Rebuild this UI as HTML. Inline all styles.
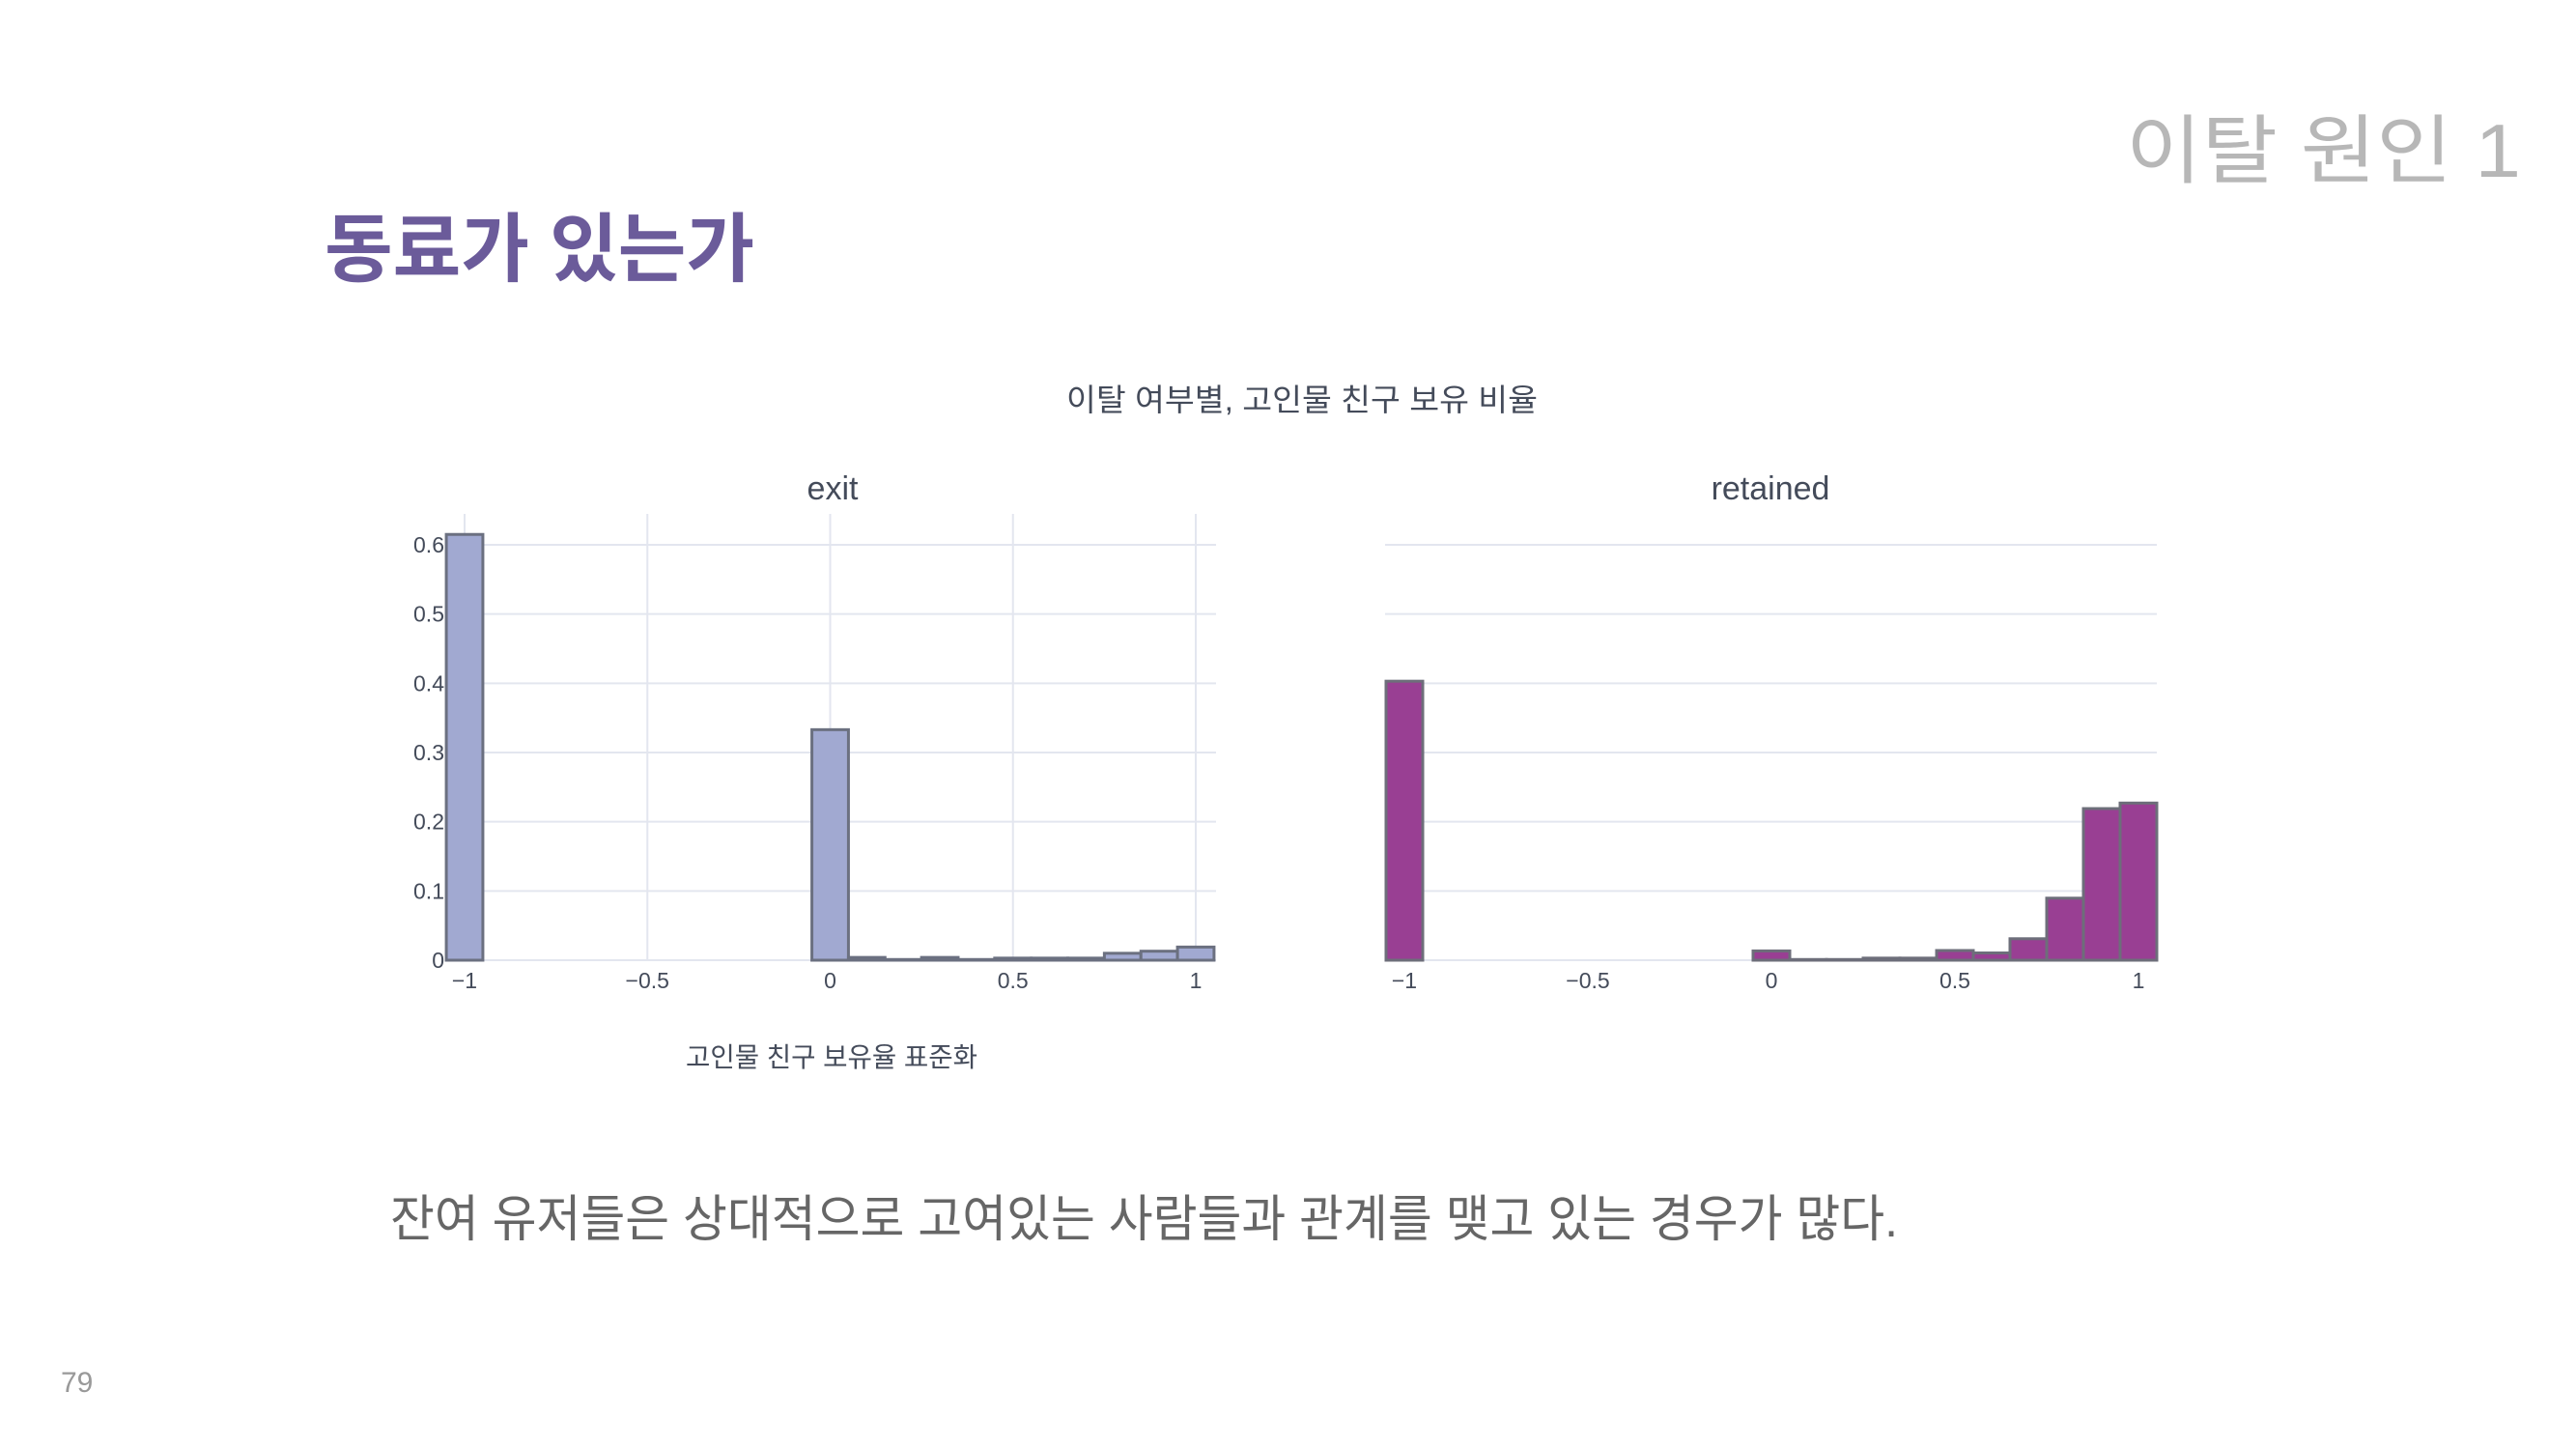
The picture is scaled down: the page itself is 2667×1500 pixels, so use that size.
<!DOCTYPE html>
<html><head><meta charset="utf-8"><style>
html,body{margin:0;padding:0;background:#fff;}
svg{display:block;}
text{font-family:"Liberation Sans","Noto Sans CJK KR",sans-serif;}
</style></head><body>
<svg id="root" width="2667" height="1500" viewBox="0 0 2667 1500">
<text x="2201" y="183" font-size="78" fill="#b7b7b7" textLength="409" lengthAdjust="spacingAndGlyphs">이탈 원인 1</text>
<text x="336" y="285" font-size="78" fill="#6b5b9a" font-weight="bold" textLength="445" lengthAdjust="spacingAndGlyphs">동료가 있는가</text>
<text x="1104" y="425" font-size="32" fill="#444b5a" textLength="488" lengthAdjust="spacingAndGlyphs">이탈 여부별, 고인물 친구 보유 비율</text>
<text x="862" y="517" font-size="34" fill="#444b5a" text-anchor="middle">exit</text>
<text x="1833" y="517" font-size="34" fill="#444b5a" text-anchor="middle">retained</text>
<text x="710" y="1104" font-size="28" fill="#444b5a" textLength="302" lengthAdjust="spacingAndGlyphs">고인물 친구 보유율 표준화</text>
<text x="404" y="1280" font-size="52" fill="#666" textLength="1561" lengthAdjust="spacingAndGlyphs">잔여 유저들은 상대적으로 고여있는 사람들과 관계를 맺고 있는 경우가 많다.</text>
<text x="63" y="1441" font-size="30" fill="#999">79</text>
<g id="chart"></g>
</svg>
<script>
const binCenters = [-1,-0.9,-0.8,-0.7,-0.6,-0.5,-0.4,-0.3,-0.2,-0.1,0,0.1,0.2,0.3,0.4,0.5,0.6,0.7,0.8,0.9,1];
const exitValues = [0.615,0,0,0,0,0,0,0,0,0,0.333,0.004,0.001,0.004,0.001,0.003,0.003,0.003,0.01,0.013,0.019];
const retainedValues = [0.403,0,0,0,0,0,0,0,0,0,0.0134,0.001,0.001,0.003,0.003,0.014,0.0105,0.031,0.0896,0.219,0.227];
const xTicks = [-1,-0.5,0,0.5,1];
const xTickLabels = ["\u22121","\u22120.5","0","0.5","1"];
const yTicks = [0,0.1,0.2,0.3,0.4,0.5,0.6];
const yTickLabels = ["0","0.1","0.2","0.3","0.4","0.5","0.6"];
const binWidth = 0.1;

const NS = "http://www.w3.org/2000/svg";
const g = document.getElementById('chart');
function el(tag, attrs){const e=document.createElementNS(NS,tag);for(const k in attrs)e.setAttribute(k,attrs[k]);g.appendChild(e);return e;}
const Y0 = 994, Y6 = 564;
const yScale = v => Y0 - v*(Y0-Y6)/0.6;
function panel(x0, xUnit, left, right, values, fill, stroke, name, vgrid, showY){
  const xs = v => x0 + (v+1)/2*xUnit;
  yTicks.forEach((t,i)=>{
    const l=el('line',{x1:left,x2:right,y1:yScale(t),y2:yScale(t),stroke:'#e3e6ef','stroke-width':2});
    
    
    if(showY){
      const tx=el('text',{x:460,y:yScale(t)+8,'font-size':23,fill:'#444b5a','text-anchor':'end'});
      tx.textContent=yTickLabels[i];
      
      
    }
  });
  xTicks.forEach((t,i)=>{
    if(vgrid){
      const l=el('line',{x1:xs(t),x2:xs(t),y1:532,y2:Y0,stroke:'#e3e6ef','stroke-width':2});
      
      
    }
    const tx=el('text',{x:xs(t),y:1023,'font-size':23,fill:'#444b5a','text-anchor':'middle'});
    tx.textContent=xTickLabels[i];
    
    
  });
  values.forEach((v,i)=>{
    const c=binCenters[i];
    const xa=xs(c-binWidth/2), xb=xs(c+binWidth/2);
    const r=el('rect',{x:xa,y:yScale(v),width:xb-xa,height:yScale(0)-yScale(v),fill:fill,stroke:stroke,'stroke-width':3});
    
    
  });
}
panel(481, 757, 462, 1259, exitValues, '#a1a9d1', '#6b7080', 'exit', true, true);
panel(1454, 760, 1434, 2233, retainedValues, '#993f93', '#6d6e7a', 'retained', false, false);
</script>
</body></html>
